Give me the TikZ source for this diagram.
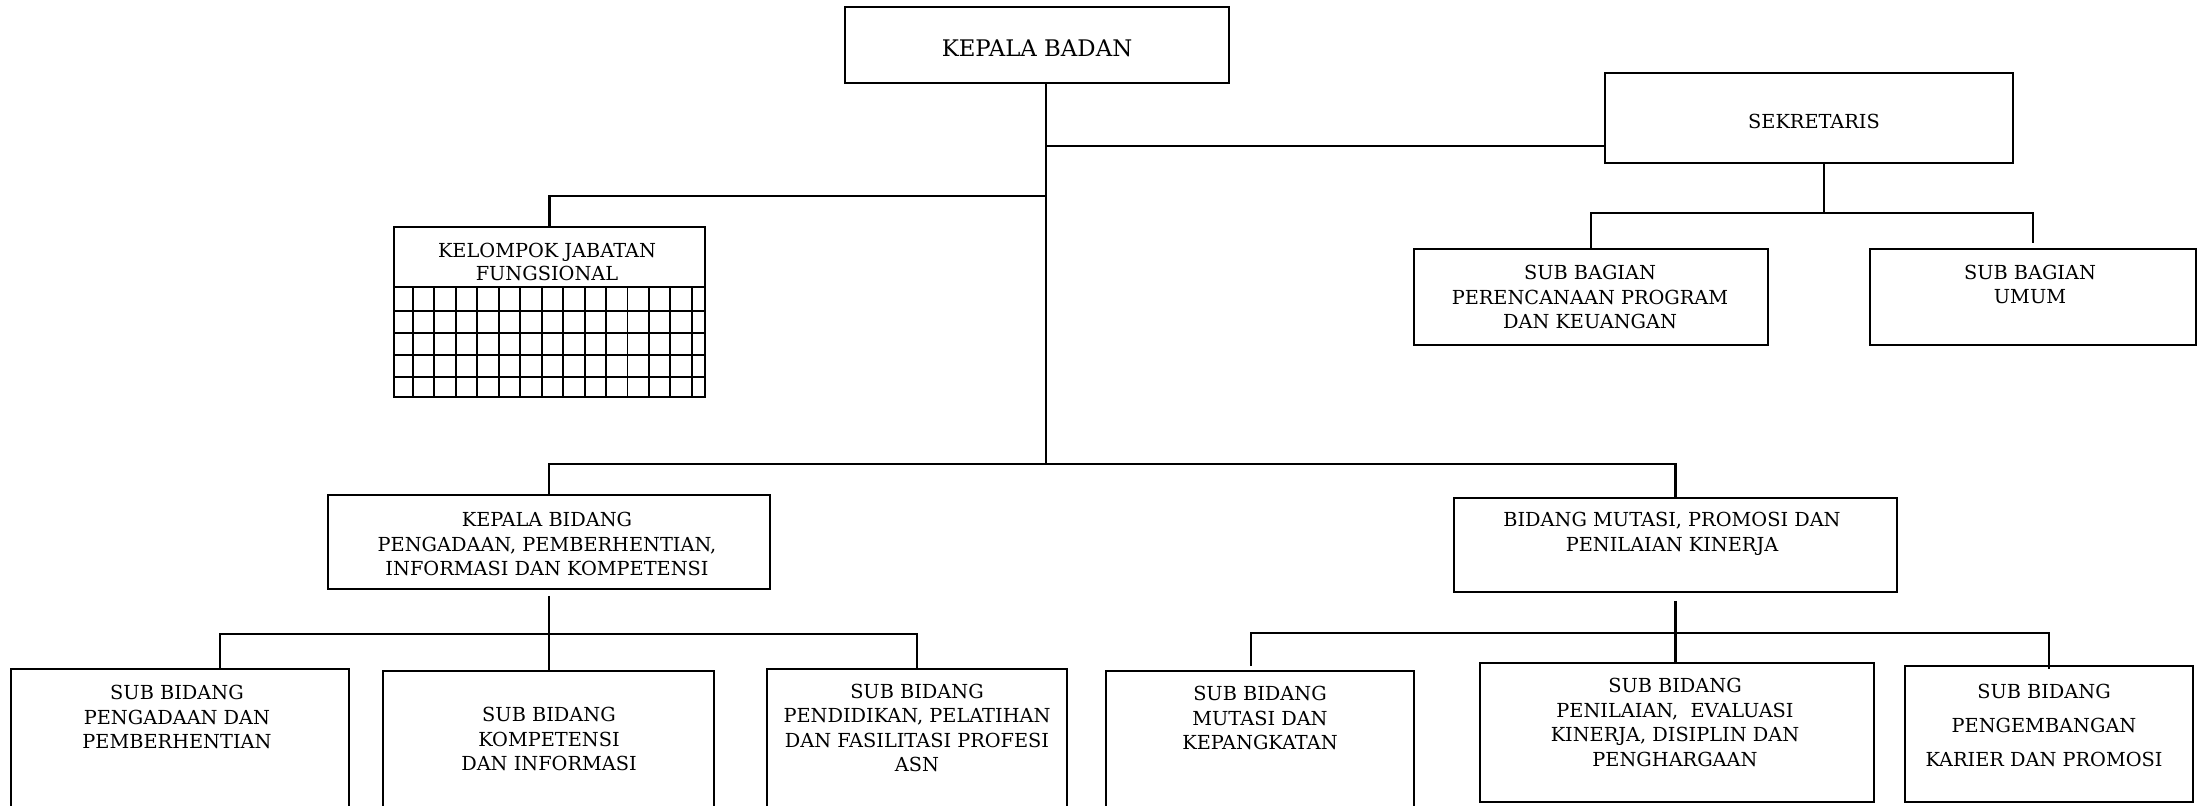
\documentclass[tikz,border=0pt]{standalone}
\usepackage{fontspec}
\setmainfont{DejaVu Serif}
\usetikzlibrary{calc}
\tikzset{
	box/.style={draw, line width=1.1pt, inner sep=0pt},
	txt/.style={align=center, inner sep=0pt, font=\fontsize{11}{14}\selectfont},
	conn/.style={line width=1.2pt},
	gridline/.style={line width=1.1pt},
}

\begin{document}
\begin{tikzpicture}[x=0.02cm, y=-0.02cm]
			%%%%% START %%%%%
			\useasboundingbox (0,0) rectangle (2198,805);
			\clip (0,0) rectangle (2198,805);
			
			% boxes
			\node[box, minimum width=7.68cm, minimum height=1.52cm] (kepala) at (1037,45) {};
			\node[box, minimum width=8.16cm, minimum height=1.80cm] (sek) at (1809,118) {};
			\node[box, minimum width=6.22cm, minimum height=3.40cm] (kjf) at (549.5,312) {};
			\node[box, minimum width=7.08cm, minimum height=1.92cm] (per) at (1591,297) {};
			\node[box, minimum width=6.52cm, minimum height=1.92cm] (umum) at (2033,297) {};
			\node[box, minimum width=8.84cm, minimum height=1.88cm] (kabid) at (549,542) {};
			\node[box, minimum width=8.86cm, minimum height=1.88cm] (bidmut) at (1675.5,545) {};
			
			\node[box, minimum width=6.76cm, minimum height=3.82cm] (sb1) at (180,764.5) {};
			\node[box, minimum width=6.62cm, minimum height=3.78cm] (sb2) at (548.5,765.5) {};
			\node[box, minimum width=6.00cm, minimum height=3.82cm] (sb3) at (917,764.5) {};
			\node[box, minimum width=6.16cm, minimum height=3.78cm] (sb4) at (1260,765.5) {};
			\node[box, minimum width=7.88cm, minimum height=2.78cm] (sb5) at (1677,732.5) {};
			\node[box, minimum width=5.76cm, minimum height=2.72cm] (sb6) at (2049,734) {};
			
			% grid of kelompok jabatan fungsional
			\draw[line width=1.2pt] (kjf.west |- 0,287) -- (kjf.east |- 0,287);
			\foreach \gy in {311,333,355,377}
				\draw[gridline] (kjf.west |- 0,\gy) -- (kjf.east |- 0,\gy);
			\foreach \i in {0,...,13}
				\draw[gridline] ({413+21.45*\i},287) -- ({413+21.45*\i},397);
			
			% texts
			\node[txt, font=\fontsize{13}{15}\selectfont] (kepala-t) at (1037,48) {KEPALA BADAN};
			\node[txt] (sek-t) at (1814,121) {SEKRETARIS};
			\node[txt, font=\fontsize{11}{13}\selectfont] (kjf-t) at (547,262) {KELOMPOK JABATAN\\FUNGSIONAL};
			\node[txt] (per-t) at (1590,297) {SUB BAGIAN\\PERENCANAAN PROGRAM\\DAN KEUANGAN};
			\node[txt] (umum-t) at (2030,284.5) {SUB BAGIAN\\UMUM};
			\node[txt] (kabid-t) at (547,544) {KEPALA BIDANG\\PENGADAAN, PEMBERHENTIAN,\\INFORMASI DAN KOMPETENSI};
			\node[txt] (bidmut-t) at (1672,534) {BIDANG MUTASI, PROMOSI DAN\\PENILAIAN KINERJA};
			
			\node[txt] (sb1-t) at (177,717) {SUB BIDANG\\PENGADAAN DAN\\PEMBERHENTIAN};
			\node[txt] (sb2-t) at (549,739) {SUB BIDANG\\KOMPETENSI\\DAN INFORMASI};
			\node[txt] (sb3-t) at (917,728) {SUB BIDANG\\PENDIDIKAN, PELATIHAN\\DAN FASILITASI PROFESI\\ASN};
			\node[txt] (sb4-t) at (1260,718) {SUB BIDANG\\MUTASI DAN\\KEPANGKATAN};
			\node[txt] (sb5-t) at (1675,722.5) {SUB BIDANG\\PENILAIAN,~ EVALUASI\\KINERJA, DISIPLIN DAN\\PENGHARGAAN};
			\node[txt, font=\fontsize{11}{19.3}\selectfont] (sb6-t) at (2044,725.5) {SUB BIDANG\\PENGEMBANGAN\\KARIER DAN PROMOSI};
			
			% connectors
			\coordinate (js) at (1046,146);
			\coordinate (jk) at (1046,196);
			\coordinate (jt) at (1046,464);
			\draw[conn] (kepala.south -| jt) -- (jt);
			\draw[conn] (js) -- (js -| sek.west);
			\draw[conn] (jk) -- (jk -| kjf.north) -- (kjf.north);
			\draw[conn] (kabid.north) -- (kabid.north |- jt) -- (bidmut.north |- jt) -- (bidmut.north);
			
			\coordinate (jsek) at (1824,213);
			\draw[conn] (jsek |- sek.south) -- (jsek);
			\draw[conn] (per.north) -- (per.north |- jsek) -- (umum.north |- jsek) -- ($(umum.north)+(0,-5)$);
			
			\coordinate (ja1) at (220,634);
			\draw[conn] ($(kabid.south)+(0,6)$) -- (kabid.south |- sb2.north);
			\draw[conn] (ja1 |- sb1.north) -- (ja1) -- (ja1 -| sb3.north) -- (sb3.north);
			
			\coordinate (jb1) at (1251,633);
			\draw[conn] ($(bidmut.south)+(0,8)$) -- (bidmut.south |- sb5.north);
			\draw[conn] ($(jb1 |- sb4.north)+(0,-4)$) -- (jb1) -- (jb1 -| sb6.north) -- ($(sb6.north)+(0,4)$);
			
			%%%%% END %%%%%
\end{tikzpicture}
\end{document}
